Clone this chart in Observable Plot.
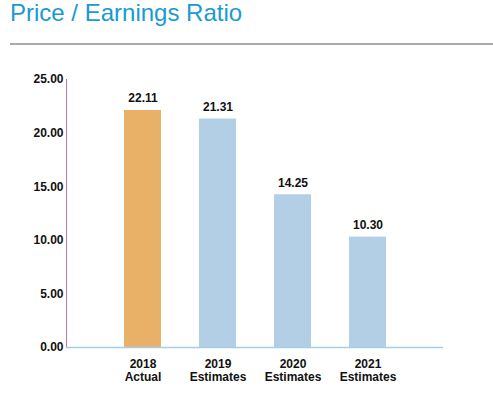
<!DOCTYPE html>
<html>
<head>
<meta charset="utf-8">
<script src="https://cdn.jsdelivr.net/npm/d3@7"></script>
<script src="https://cdn.jsdelivr.net/npm/@observablehq/plot@0.6"></script>
<style>
  html, body { margin: 0; padding: 0; background: #fff; }
  body { width: 493px; height: 399px; overflow: hidden; font-family: "Liberation Sans", Arial, sans-serif; }
  #title { position: absolute; left: 10px; top: -2px; font-size: 24px; color: #1a9ad2; line-height: 30px; white-space: nowrap; }
  #rule { position: absolute; left: 10px; top: 43px; width: 483px; height: 2px; background: #aaaaaa; }
  #chart { position: absolute; left: 0; top: 55px; }
</style>
</head>
<body>
<div id="title">Price / Earnings Ratio</div>
<div id="rule"></div>
<div id="chart"></div>
<script>
const categories = ["2018\nActual", "2019\nEstimates", "2020\nEstimates", "2021\nEstimates"];
const values = [22.11, 21.31, 14.25, 10.30];
const kinds = ["Actual", "Estimate", "Estimate", "Estimate"];
const yTicks = [0, 5, 10, 15, 20, 25];

const data = categories.map((c, i) => ({cat: c, value: values[i], kind: kinds[i]}));

const chart = Plot.plot({
  width: 493,
  height: 344,
  marginLeft: 66,
  marginRight: 50,
  marginTop: 24,
  marginBottom: 52,
  style: {fontFamily: "'Liberation Sans', Arial, sans-serif", fontSize: "12px", fontWeight: "bold", color: "#111"},
  x: {domain: categories, paddingInner: 0.51, paddingOuter: 0.755, label: null},
  y: {domain: [0, 25], label: null},
  color: {domain: ["Actual", "Estimate"], range: ["#e9b068", "#b3cfe6"]},
  marks: [
    Plot.barY(data, {x: "cat", y: "value", fill: "kind"}),
    Plot.frame({anchor: "left", stroke: "#c8789e", strokeWidth: 1}),
    Plot.ruleY([0], {stroke: "#a6cde3", strokeWidth: 1.5}),
    Plot.axisY({ticks: yTicks, tickSize: 0, tickPadding: 3, tickFormat: d => d.toFixed(2), fill: "#111", fontWeight: "bold"}),
    Plot.axisX({tickSize: 0, tickPadding: 12, fill: "#111", fontWeight: "bold", lineHeight: 1.05}),
    Plot.text(data, {x: "cat", y: "value", text: d => d.value.toFixed(2), dy: -12, fill: "#111", fontWeight: "bold", fontSize: 12})
  ]
});
document.getElementById("chart").appendChild(chart);
</script>
</body>
</html>
